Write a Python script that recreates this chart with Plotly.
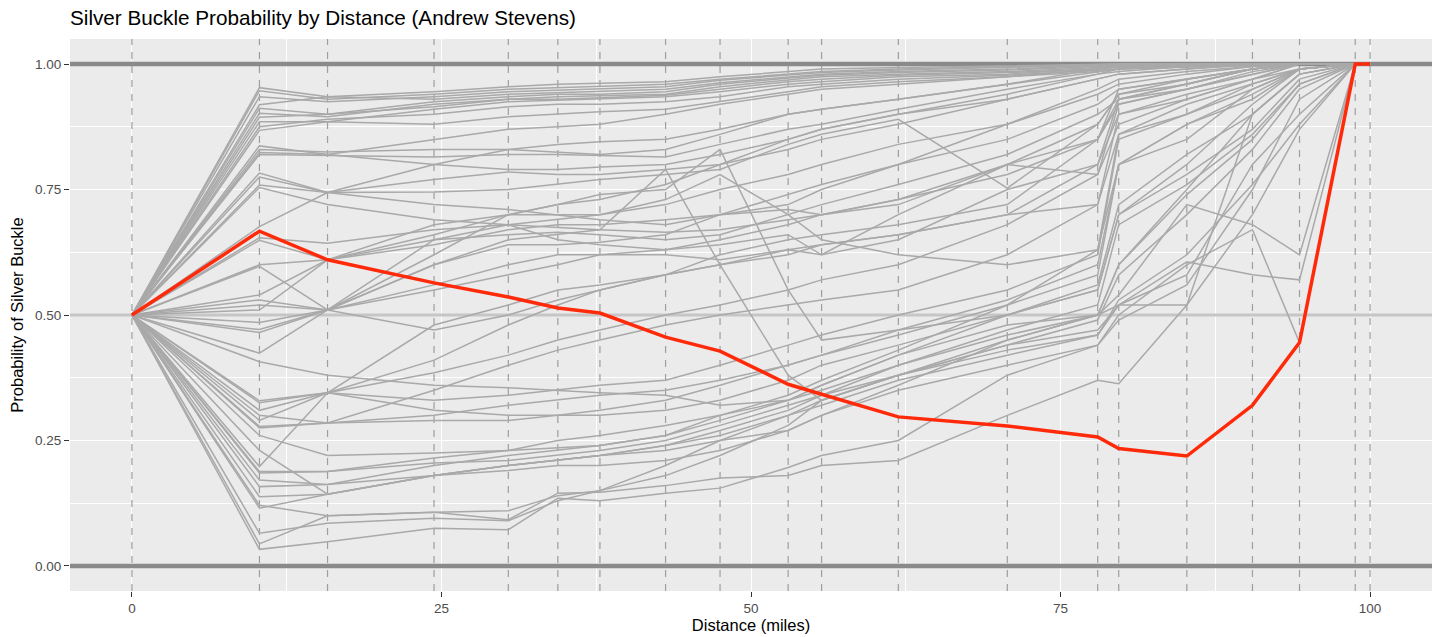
import plotly.graph_objects as go

# checkpoint distances (miles)
miles = [0, 10.3, 15.8, 24.4, 30.4, 34.4, 37.8, 43.1, 47.5, 53.0, 55.7,
         61.9, 70.7, 78.0, 79.7, 85.2, 90.5, 94.3, 98.8, 100]

# highlighted runner
andrew = [0.5, 0.667, 0.61, 0.564, 0.536, 0.514, 0.504, 0.456, 0.428, 0.362,
          0.342, 0.297, 0.279, 0.257, 0.234, 0.219, 0.32, 0.445, 1.0, 1.0]

# every other runner, one list per runner
others = [
    [0.5, 0.953, 0.935, 0.945, 0.955, 0.96, 0.962, 0.965, 0.975, 0.985, 0.99, 0.993, 0.997, 1.0, 1.0, 1.0, 1.0, 1.0, 1.0, 1.0],
    [0.5, 0.947, 0.93, 0.94, 0.95, 0.953, 0.955, 0.96, 0.97, 0.98, 0.985, 0.99, 0.995, 1.0, 1.0, 1.0, 1.0, 1.0, 1.0, 1.0],
    [0.5, 0.935, 0.925, 0.935, 0.945, 0.948, 0.95, 0.955, 0.968, 0.978, 0.983, 0.988, 0.993, 0.998, 1.0, 1.0, 1.0, 1.0, 1.0, 1.0],
    [0.5, 0.919, 0.935, 0.93, 0.94, 0.943, 0.945, 0.95, 0.963, 0.975, 0.98, 0.985, 0.99, 0.997, 1.0, 1.0, 1.0, 1.0, 1.0, 1.0],
    [0.5, 0.912, 0.9, 0.925, 0.935, 0.94, 0.94, 0.945, 0.96, 0.972, 0.978, 0.983, 0.988, 0.995, 0.998, 1.0, 1.0, 1.0, 1.0, 1.0],
    [0.5, 0.902, 0.895, 0.92, 0.93, 0.935, 0.937, 0.94, 0.955, 0.968, 0.975, 0.98, 0.985, 0.993, 0.997, 0.999, 1.0, 1.0, 1.0, 1.0],
    [0.5, 0.894, 0.9, 0.915, 0.93, 0.93, 0.933, 0.938, 0.95, 0.965, 0.97, 0.978, 0.983, 0.99, 0.995, 0.998, 1.0, 1.0, 1.0, 1.0],
    [0.5, 0.885, 0.885, 0.91, 0.925, 0.928, 0.93, 0.935, 0.945, 0.96, 0.965, 0.975, 0.98, 0.99, 0.993, 0.997, 0.999, 1.0, 1.0, 1.0],
    [0.5, 0.875, 0.89, 0.9, 0.915, 0.92, 0.92, 0.925, 0.935, 0.955, 0.96, 0.97, 0.978, 0.988, 0.99, 0.995, 0.998, 1.0, 1.0, 1.0],
    [0.5, 0.868, 0.885, 0.88, 0.895, 0.9, 0.905, 0.91, 0.925, 0.945, 0.955, 0.965, 0.975, 0.985, 0.99, 0.993, 0.997, 1.0, 1.0, 1.0],
    [0.5, 0.837, 0.82, 0.85, 0.87, 0.875, 0.88, 0.9, 0.92, 0.94, 0.95, 0.96, 0.975, 0.99, 0.995, 1.0, 1.0, 1.0, 1.0, 1.0],
    [0.5, 0.83, 0.825, 0.83, 0.83, 0.825, 0.82, 0.83, 0.86, 0.9, 0.91, 0.93, 0.96, 0.985, 0.99, 0.997, 1.0, 1.0, 1.0, 1.0],
    [0.5, 0.824, 0.82, 0.8, 0.79, 0.79, 0.795, 0.8, 0.82, 0.85, 0.87, 0.9, 0.94, 0.98, 0.985, 0.995, 1.0, 1.0, 1.0, 1.0],
    [0.5, 0.82, 0.818, 0.815, 0.82, 0.82, 0.818, 0.815, 0.84, 0.87, 0.88, 0.91, 0.95, 0.98, 0.99, 0.997, 1.0, 1.0, 1.0, 1.0],
    [0.5, 0.783, 0.744, 0.77, 0.785, 0.78, 0.78, 0.79, 0.8, 0.83, 0.85, 0.88, 0.93, 0.97, 0.98, 0.99, 0.998, 1.0, 1.0, 1.0],
    [0.5, 0.775, 0.744, 0.72, 0.71, 0.7, 0.69, 0.68, 0.7, 0.72, 0.75, 0.8, 0.88, 0.95, 0.97, 0.985, 0.995, 1.0, 1.0, 1.0],
    [0.5, 0.759, 0.744, 0.745, 0.75, 0.76, 0.77, 0.78, 0.79, 0.84, 0.86, 0.89, 0.753, 0.88, 0.94, 0.97, 0.99, 1.0, 1.0, 1.0],
    [0.5, 0.754, 0.72, 0.69, 0.68, 0.675, 0.67, 0.665, 0.67, 0.69, 0.7, 0.72, 0.8, 0.78, 0.88, 0.93, 0.97, 0.99, 1.0, 1.0],
    [0.5, 0.676, 0.744, 0.8, 0.83, 0.84, 0.845, 0.85, 0.87, 0.9, 0.91, 0.93, 0.96, 0.99, 0.995, 1.0, 1.0, 1.0, 1.0, 1.0],
    [0.5, 0.654, 0.643, 0.67, 0.68, 0.69, 0.7, 0.72, 0.75, 0.78, 0.8, 0.84, 0.88, 0.94, 0.96, 0.98, 0.995, 1.0, 1.0, 1.0],
    [0.5, 0.649, 0.61, 0.65, 0.66, 0.665, 0.66, 0.65, 0.66, 0.7, 0.72, 0.76, 0.82, 0.9, 0.93, 0.96, 0.99, 1.0, 1.0, 1.0],
    [0.5, 0.6, 0.61, 0.64, 0.67, 0.68, 0.68, 0.69, 0.7, 0.71, 0.7, 0.73, 0.78, 0.85, 0.92, 0.95, 0.985, 1.0, 1.0, 1.0],
    [0.5, 0.597, 0.51, 0.6, 0.64, 0.64, 0.645, 0.66, 0.7, 0.74, 0.76, 0.8, 0.85, 0.92, 0.95, 0.97, 0.99, 1.0, 1.0, 1.0],
    [0.5, 0.54, 0.61, 0.66, 0.7, 0.72, 0.73, 0.76, 0.8, 0.85, 0.87, 0.9, 0.93, 0.97, 0.98, 0.99, 1.0, 1.0, 1.0, 1.0],
    [0.5, 0.53, 0.51, 0.56, 0.6, 0.62, 0.62, 0.62, 0.61, 0.63, 0.62, 0.7, 0.8, 0.88, 0.94, 0.96, 0.99, 1.0, 1.0, 1.0],
    [0.5, 0.52, 0.51, 0.47, 0.5, 0.53, 0.55, 0.58, 0.6, 0.62, 0.64, 0.66, 0.7, 0.72, 0.86, 0.9, 0.96, 0.99, 1.0, 1.0],
    [0.5, 0.51, 0.61, 0.68, 0.7, 0.7, 0.7, 0.73, 0.78, 0.7, 0.65, 0.62, 0.6, 0.63, 0.8, 0.85, 0.95, 0.99, 1.0, 1.0],
    [0.5, 0.485, 0.51, 0.6, 0.65, 0.66, 0.67, 0.79, 0.6, 0.38, 0.33, 0.38, 0.45, 0.5, 0.52, 0.52, 0.9, 0.98, 1.0, 1.0],
    [0.5, 0.471, 0.51, 0.62, 0.7, 0.72, 0.74, 0.75, 0.83, 0.55, 0.45, 0.47, 0.5, 0.55, 0.7, 0.8, 0.92, 0.99, 1.0, 1.0],
    [0.5, 0.465, 0.51, 0.55, 0.58, 0.6, 0.62, 0.63, 0.64, 0.66, 0.62, 0.65, 0.75, 0.8, 0.9, 0.93, 0.97, 1.0, 1.0, 1.0],
    [0.5, 0.424, 0.51, 0.65, 0.68, 0.65, 0.64, 0.63, 0.65, 0.68, 0.7, 0.73, 0.8, 0.85, 0.93, 0.95, 0.98, 1.0, 1.0, 1.0],
    [0.5, 0.407, 0.38, 0.36, 0.355, 0.35, 0.345, 0.34, 0.32, 0.33, 0.36, 0.42, 0.48, 0.5, 0.6, 0.75, 0.9, 0.98, 1.0, 1.0],
    [0.5, 0.329, 0.345, 0.385, 0.42, 0.45, 0.47, 0.5, 0.52, 0.55, 0.57, 0.6, 0.68, 0.78, 0.92, 0.95, 0.98, 1.0, 1.0, 1.0],
    [0.5, 0.325, 0.345, 0.33, 0.34, 0.35, 0.36, 0.37, 0.4, 0.44, 0.46, 0.5, 0.55, 0.62, 0.85, 0.9, 0.95, 0.99, 1.0, 1.0],
    [0.5, 0.31, 0.345, 0.31, 0.3, 0.3, 0.31, 0.33, 0.36, 0.4, 0.42, 0.47, 0.53, 0.6, 0.8, 0.88, 0.93, 0.99, 1.0, 1.0],
    [0.5, 0.3, 0.285, 0.35, 0.4, 0.43, 0.45, 0.48, 0.5, 0.52, 0.53, 0.55, 0.62, 0.72, 0.9, 0.94, 0.97, 1.0, 1.0, 1.0],
    [0.5, 0.29, 0.345, 0.41, 0.48, 0.52, 0.55, 0.58, 0.62, 0.65, 0.66, 0.68, 0.72, 0.85, 0.95, 0.97, 0.99, 1.0, 1.0, 1.0],
    [0.5, 0.278, 0.285, 0.29, 0.29, 0.3, 0.3, 0.31, 0.33, 0.37, 0.4, 0.44, 0.5, 0.56, 0.72, 0.82, 0.9, 0.98, 1.0, 1.0],
    [0.5, 0.275, 0.285, 0.3, 0.32, 0.33, 0.34, 0.35, 0.37, 0.4, 0.42, 0.46, 0.52, 0.58, 0.8, 0.88, 0.94, 0.99, 1.0, 1.0],
    [0.5, 0.26, 0.22, 0.225, 0.23, 0.235, 0.24, 0.26, 0.29, 0.33, 0.36, 0.42, 0.5, 0.55, 0.7, 0.78, 0.87, 0.97, 1.0, 1.0],
    [0.5, 0.23, 0.143, 0.18, 0.2, 0.21, 0.22, 0.24, 0.27, 0.31, 0.34, 0.4, 0.47, 0.52, 0.68, 0.76, 0.86, 0.96, 1.0, 1.0],
    [0.5, 0.198, 0.345, 0.48, 0.52, 0.55, 0.56, 0.58, 0.6, 0.63, 0.64, 0.66, 0.7, 0.8, 0.93, 0.96, 0.99, 1.0, 1.0, 1.0],
    [0.5, 0.188, 0.188, 0.215, 0.23, 0.25, 0.26, 0.28, 0.3, 0.33, 0.35, 0.4, 0.46, 0.5, 0.6, 0.74, 0.85, 0.96, 1.0, 1.0],
    [0.5, 0.185, 0.188, 0.205, 0.21, 0.22, 0.23, 0.25, 0.28, 0.32, 0.34, 0.38, 0.44, 0.49, 0.58, 0.7, 0.83, 0.95, 1.0, 1.0],
    [0.5, 0.171, 0.162, 0.2, 0.22, 0.23, 0.24, 0.26, 0.3, 0.34, 0.37, 0.43, 0.52, 0.63, 0.86, 0.92, 0.96, 0.99, 1.0, 1.0],
    [0.5, 0.158, 0.162, 0.18, 0.2, 0.21, 0.22, 0.23, 0.25, 0.27, 0.3, 0.36, 0.45, 0.5, 0.54, 0.72, 0.68, 0.62, 1.0, 1.0],
    [0.5, 0.138, 0.143, 0.18, 0.2, 0.21, 0.22, 0.24, 0.26, 0.3, 0.33, 0.38, 0.44, 0.47, 0.52, 0.606, 0.58, 0.57, 1.0, 1.0],
    [0.5, 0.121, 0.1, 0.107, 0.11, 0.14, 0.15, 0.2, 0.25, 0.3, 0.32, 0.37, 0.42, 0.46, 0.52, 0.58, 0.8, 0.9, 1.0, 1.0],
    [0.5, 0.115, 0.143, 0.18, 0.19, 0.2, 0.2, 0.21, 0.23, 0.27, 0.3, 0.35, 0.4, 0.44, 0.5, 0.6, 0.67, 0.445, 1.0, 1.0],
    [0.5, 0.065, 0.085, 0.095, 0.09, 0.13, 0.15, 0.18, 0.22, 0.28, 0.33, 0.38, 0.43, 0.46, 0.53, 0.62, 0.76, 0.88, 1.0, 1.0],
    [0.5, 0.044, 0.1, 0.107, 0.092, 0.145, 0.147, 0.16, 0.175, 0.18, 0.2, 0.21, 0.3, 0.37, 0.363, 0.52, 0.7, 0.87, 1.0, 1.0],
    [0.5, 0.033, 0.048, 0.075, 0.072, 0.135, 0.13, 0.145, 0.155, 0.196, 0.22, 0.25, 0.38, 0.44, 0.49, 0.56, 0.75, 0.93, 1.0, 1.0],
]

x_range = [-5, 105]
y_range = [-0.05, 1.05]
x_ticks = [0, 25, 50, 75, 100]
y_ticks = [0, 0.25, 0.5, 0.75, 1.0]
y_labels = ["0.00", "0.25", "0.50", "0.75", "1.00"]
ref_levels = [0, 0.5, 1]

FONT = "Liberation Sans, Arial, sans-serif"

fig = go.Figure()

# dashed checkpoint lines (one trace, broken with None)
vx, vy = [], []
for m in miles:
    vx += [m, m, None]
    vy += [y_range[0], y_range[1], None]
fig.add_trace(go.Scatter(x=vx, y=vy, mode="lines",
                         line=dict(color="#9E9E9E", width=1.2, dash="7px,7px"),
                         hoverinfo="skip", showlegend=False))

# reference lines at 0, 0.5, 1
for yv in ref_levels:
    mid = yv == 0.5
    fig.add_trace(go.Scatter(x=x_range, y=[yv, yv], mode="lines",
                             line=dict(color="#C6C6C6" if mid else "#8A8A8A",
                                       width=3 if mid else 4.5),
                             hoverinfo="skip", showlegend=False))

for runner in others:
    fig.add_trace(go.Scatter(x=miles, y=runner, mode="lines",
                             line=dict(color="#A9A9A9", width=1.5),
                             hoverinfo="skip", showlegend=False))

fig.add_trace(go.Scatter(x=miles, y=andrew, mode="lines",
                         line=dict(color="#FF2A0A", width=3.5),
                         showlegend=False))

fig.update_layout(
    width=1438, height=637,
    paper_bgcolor="white", plot_bgcolor="#EBEBEB",
    margin=dict(l=70, r=6, t=39, b=46),
    font=dict(family=FONT, color="#000000"),
    title=dict(text="Silver Buckle Probability by Distance (Andrew Stevens)",
               x=0, xref="paper", xanchor="left",
               y=0.972, yref="container", yanchor="middle",
               font=dict(size=20.7, color="#000000")),
    xaxis=dict(range=x_range, tickvals=x_ticks, ticks="outside", ticklen=5,
               tickcolor="#333333", tickfont=dict(size=13.5, color="#4D4D4D"),
               showgrid=True, gridcolor="white", gridwidth=1.4, zeroline=False,
               showline=False, automargin=False,
               minor=dict(dtick=12.5, tick0=0, showgrid=True, gridcolor="white",
                          gridwidth=0.7, ticks=""),
               title=dict(text="Distance (miles)", font=dict(size=16.5), standoff=4)),
    yaxis=dict(range=y_range, tickvals=y_ticks, ticktext=y_labels,
               ticks="outside", ticklen=5, tickcolor="#333333",
               tickfont=dict(size=13.5, color="#4D4D4D"),
               showgrid=True, gridcolor="white", gridwidth=1.4, zeroline=False,
               showline=False, automargin=False,
               minor=dict(dtick=0.125, tick0=0, showgrid=True, gridcolor="white",
                          gridwidth=0.7, ticks=""),
               title=dict(text="Probability of Silver Buckle", font=dict(size=16.5),
                          standoff=7)),
)

fig.write_html("out.html", config={"displayModeBar": False})

# drop the browser's default page margin so the figure fills the window
with open("out.html", encoding="utf-8") as f:
    page = f.read()
page = page.replace("<body>", '<body style="margin:0;overflow:hidden">', 1)
with open("out.html", "w", encoding="utf-8") as f:
    f.write(page)
